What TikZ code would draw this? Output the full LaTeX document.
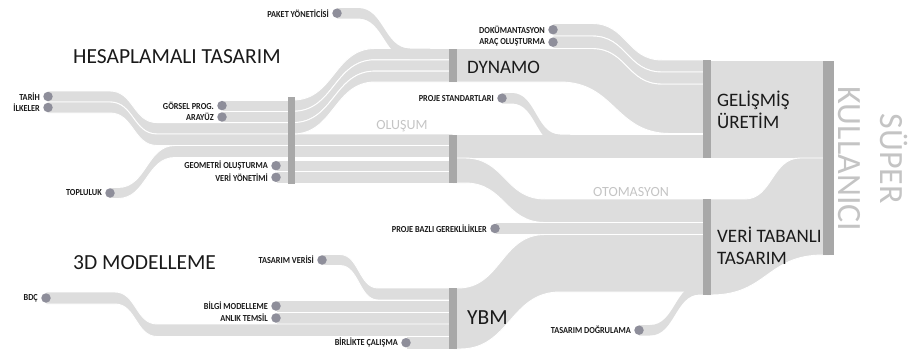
\documentclass[tikz,border=0pt]{standalone}
\usepackage{fontspec}
\setmainfont{Carlito}
\newfontfamily\labfont[FakeStretch=0.9]{Carlito}
\usetikzlibrary{positioning}
\definecolor{bandc}{HTML}{DDDDDD}
\definecolor{barc}{HTML}{A8A8A8}
\definecolor{dotc}{HTML}{8E8E9A}
\definecolor{fadec}{HTML}{C4C4C4}
\definecolor{txtc}{HTML}{1A1A1A}
% style, x0, top0, bot0, xs, xe, top1, bot1, x1
\newcommand\sband[9]{\path[#1] (#2,#3) -- (#5,#3) .. controls ({(#5+#6)/2},#3) and ({(#5+#6)/2},#7) .. (#6,#7) -- (#9,#7) -- (#9,#8) -- (#6,#8) .. controls ({(#5+#6)/2},#8) and ({(#5+#6)/2},#4) .. (#5,#4) -- (#2,#4) -- cycle;}
\begin{document}
\begin{tikzpicture}[x=1pt,y=-1pt,
 bnd/.style={fill=bandc, draw=white, line width=0.9pt, line join=round},
 bndm/.style={fill=bandc},
 barst/.style={fill=barc},
 dot/.style={circle, fill=dotc, inner sep=0pt, minimum size=9.5pt},
 lab/.style={font=\labfont\bfseries\fontsize{9.2}{10}\selectfont, text=txtc, inner sep=0pt},
 big/.style={font=\fontsize{21.5}{21}\selectfont, text=txtc, inner sep=0pt, anchor=west, align=left},
 mid/.style={font=\fontsize{19}{21.5}\selectfont, text=txtc, inner sep=0pt, anchor=west, align=left},
 fade/.style={font=\fontsize{14}{15}\selectfont, text=fadec, inner sep=0pt}]
\useasboundingbox (0,0) rectangle (914,351);
% ---------- bands (outlined) ----------
\path[bnd] (222,100) rectangle (291,111.3);
\path[bnd] (222,111.3) rectangle (291,122.6);
\sband{bnd}{48}{91}{102}{110}{157}{122.6}{134}{291}
\sband{bnd}{48}{102}{113}{110}{157}{134}{145.5}{453}
\sband{bnd}{110}{187.5}{198.5}{118}{175}{145.5}{157.5}{453}
\path[bnd] (276,160) rectangle (453,171.5);
\path[bnd] (276,171.5) rectangle (453,183);
\sband{bnd}{291}{100}{111.3}{293}{375}{48.5}{59.8}{453}
\sband{bnd}{291}{111.3}{122.6}{293}{375}{59.8}{71.1}{453}
\sband{bnd}{291}{122.6}{134}{293}{375}{71.1}{82}{453}
% dynamo -> gelismis
\path[bnd] (453,48.5) -- (592,48.5) .. controls (627,48.5) and (627,84) .. (662,84) -- (707,84) -- (707,133.5) -- (670,133.5) .. controls (615,133.5) and (615,82) .. (560,82) -- (453,82) -- cycle;
\sband{bnd}{553}{23.5}{36}{592}{662}{60}{72}{707}
\sband{bnd}{553}{36}{48.5}{592}{662}{72}{84}{707}
\path[bnd] (453,134.5) rectangle (707,158);
% otomasyon etc.
\sband{bnd}{453}{158}{183}{465}{545}{199}{222.5}{707}
\path[bnd] (495,222.5) rectangle (707,234.5);
\path[bnd] (453,288) -- (458,288) .. controls (501,288) and (501,234.5) .. (545,234.5) -- (707,234.5) -- (707,292) -- (560,292) .. controls (510,292) and (510,349) .. (460,349) -- (453,349) -- cycle;
% ybm inputs
\sband{bnd}{322}{254.5}{265.5}{340}{378}{288}{300}{453}
\path[bnd] (276,300) rectangle (453,312);
\path[bnd] (276,312) rectangle (453,324);
\sband{bnd}{46}{292}{304}{115}{157}{324}{336.5}{453}
\path[bnd] (406,336.5) rectangle (453,349);
% to super kullanici
\path[bnd] (707,60) rectangle (829,158);
\path[bnd] (707,199) -- (745,199) .. controls (772,199) and (772,158) .. (800,158) -- (829,158) -- (829,255) -- (823,255) .. controls (767,255) and (767,295) .. (711,295) -- (707,295) -- cycle;
% ---------- merging bands ----------
\sband{bndm}{337}{8}{18.5}{358}{410}{48.5}{59}{430}
\sband{bndm}{502}{93}{103.5}{512}{560}{134.5}{145}{570}
\sband{bndm}{639}{325}{335.5}{650}{700}{284}{294.5}{707}
% ---------- bars ----------
\path[barst] (287.5,97) rectangle (295,183.5);
\path[barst] (449,49) rectangle (457,82);
\path[barst] (449,134.5) rectangle (457,183);
\path[barst] (449,288) rectangle (457,349);
\path[barst] (703,60) rectangle (711,158);
\path[barst] (703,199) rectangle (711,295);
\path[barst] (823,61) rectangle (834,255);
% ---------- dots and labels ----------
\node[dot] (d1) at (48,96.5) {};   \node[lab, left=3pt of d1] {TARİH};
\node[dot] (d2) at (48,107.5) {};  \node[lab, left=3pt of d2] {İLKELER};
\node[dot] (d3) at (222,105.6) {}; \node[lab, left=3pt of d3] {GÖRSEL PROG.};
\node[dot] (d4) at (222,117) {};   \node[lab, left=3pt of d4] {ARAYÜZ};
\node[dot] (d5) at (110,193) {};   \node[lab, left=3pt of d5] {TOPLULUK};
\node[dot] (d6) at (276,165.7) {}; \node[lab, left=3pt of d6] {GEOMETRİ OLUŞTURMA};
\node[dot] (d7) at (276,177.3) {}; \node[lab, left=3pt of d7] {VERİ YÖNETİMİ};
\node[dot] (d8) at (337,13.2) {};  \node[lab, left=3pt of d8] {PAKET YÖNETİCİSİ};
\node[dot] (d9) at (553,29.7) {};  \node[lab, left=3pt of d9] {DOKÜMANTASYON};
\node[dot] (d10) at (553,42.2) {}; \node[lab, left=3pt of d10] {ARAÇ OLUŞTURMA};
\node[dot] (d11) at (502,98.2) {}; \node[lab, left=3pt of d11] {PROJE STANDARTLARI};
\node[dot] (d12) at (495,228.5) {};\node[lab, left=3pt of d12] {PROJE BAZLI GEREKLİLİKLER};
\node[dot] (d13) at (322,260) {};  \node[lab, left=3pt of d13] {TASARIM VERİSİ};
\node[dot] (d14) at (46,298) {};   \node[lab, left=3pt of d14] {BDÇ};
\node[dot] (d15) at (276,306) {};  \node[lab, left=3pt of d15] {BİLGİ MODELLEME};
\node[dot] (d16) at (276,318) {};  \node[lab, left=3pt of d16] {ANLIK TEMSİL};
\node[dot] (d17) at (406,342.7) {};\node[lab, left=3pt of d17] {BİRLİKTE ÇALIŞMA};
\node[dot] (d18) at (639,330.2) {};\node[lab, left=3pt of d18] {TASARIM DOĞRULAMA};
% ---------- big labels ----------
\node[big] (hes) at (73,57) {HESAPLAMALI TASARIM};
\node[big] (mod) at (73,263) {3D MODELLEME};
\node[mid] (dyn) at (467,67) {DYNAMO};
\node[mid] (gel) at (717,110) {GELİŞMİŞ\\ÜRETİM};
\node[mid] (ver) at (717,246) {VERİ TABANLI\\TASARIM};
\node[big] (ybm) at (467,318) {YBM};
\node[fade] (olu) at (402,126) {OLUŞUM};
\node[fade] (oto) at (631,192) {OTOMASYON};
\node[font=\fontsize{34}{42}\selectfont, text=fadec, inner sep=0pt, align=center, rotate=-90] (sup) at (873,159) {SÜPER\\KULLANICI};
\end{tikzpicture}
\end{document}
